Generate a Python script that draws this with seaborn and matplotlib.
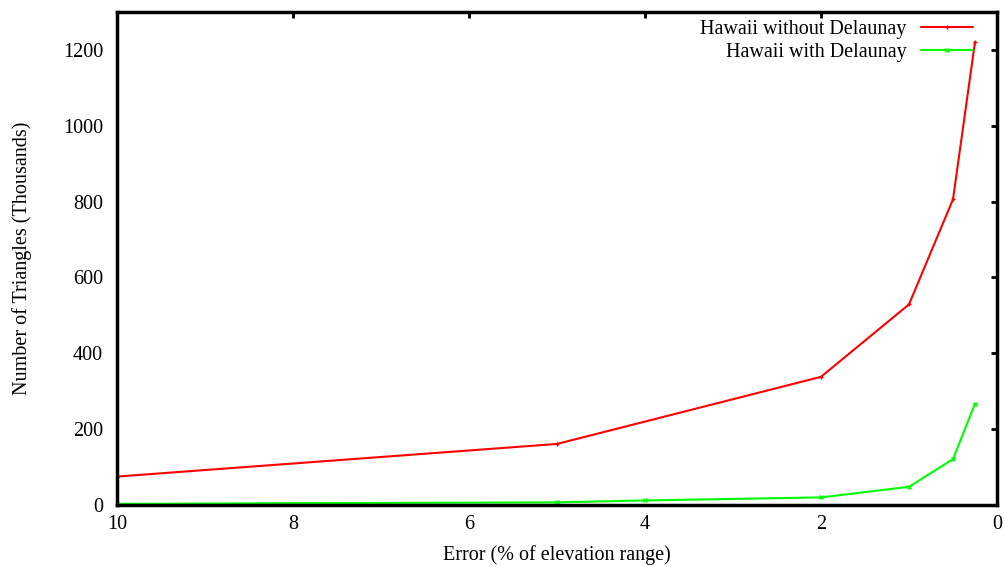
import numpy as np
import pandas as pd
import matplotlib
matplotlib.use("Agg")
import matplotlib.pyplot as plt
import seaborn as sns

error_without = [10, 5, 2, 1, 0.5, 0.25]
tri_without = [75, 161, 338, 529, 806, 1221]
error_with = [10, 5, 4, 2, 1, 0.5, 0.25]
tri_with = [3, 7, 12, 20, 48, 121, 267]
series_names = ["Hawaii without Delaunay", "Hawaii with Delaunay"]
x_ticks = [10, 8, 6, 4, 2, 0]
y_ticks = [0, 200, 400, 600, 800, 1000, 1200]

sns.set_style("white")
plt.rcParams["font.family"] = ["Liberation Serif", "DejaVu Serif"]
plt.rcParams["text.color"] = "black"
plt.rcParams["axes.labelcolor"] = "black"

df = pd.concat([
    pd.DataFrame({"err": error_without, "tri": tri_without, "series": series_names[0]}),
    pd.DataFrame({"err": error_with, "tri": tri_with, "series": series_names[1]}),
])

fig = plt.figure(figsize=(10.05, 5.67), dpi=100)
ax = fig.add_axes([117/1005, 1-505/567, (997-117)/1005, (505-12)/567])
sns.lineplot(data=df, x="err", y="tri", hue="series", style="series",
             palette={series_names[0]: "#ff0000", series_names[1]: "#00ff00"},
             markers={series_names[0]: "+", series_names[1]: "x"},
             dashes=False, markersize=3.5, markeredgewidth=1.0, linewidth=1.5,
             ax=ax, sort=False, estimator=None)
for ln in ax.lines:
    ln.set_markeredgecolor(ln.get_color())
ax.set_xlim(10, 0)
ax.set_ylim(0, 1300)
ax.set_xticks(x_ticks)
ax.set_yticks(y_ticks)
ax.tick_params(direction="in", length=4, width=2, top=True, right=True,
               labelsize=14.5, pad=7, colors="black")
ax.tick_params(axis="y", pad=10)
for s in ax.spines.values():
    s.set_linewidth(2.5)
    s.set_color("black")
    s.set_visible(True)
ax.set_xlabel("Error (% of elevation range)", fontsize=14.5, labelpad=8)
ax.set_ylabel("Number of Triangles (Thousands)", fontsize=14.5, labelpad=22)
leg = ax.legend(loc="upper right", frameon=False, markerfirst=False, fontsize=14.5,
                handlelength=2.6, handletextpad=0.7, borderaxespad=0.0,
                labelspacing=0.2, title=None, bbox_to_anchor=(0.982, 1.0))
for h in leg.get_lines():
    h.set_markeredgecolor(h.get_color())
fig.savefig("out.png", dpi=100)
